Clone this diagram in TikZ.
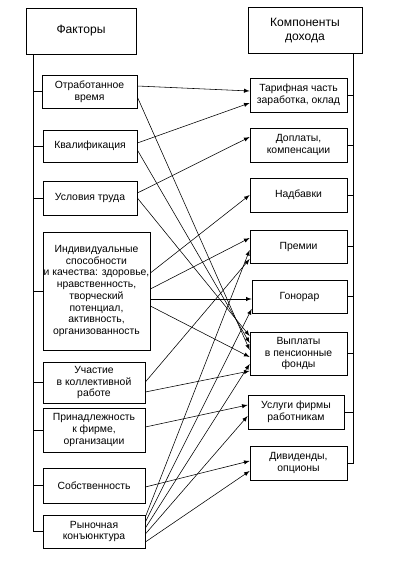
\documentclass[tikz,border=0pt]{standalone}
\usepackage{fontspec}
\setmainfont{Liberation Sans}
\usetikzlibrary{arrows}

\begin{document}
\begin{tikzpicture}[x=0.025cm, y=-0.025cm, >=latex,
    box/.style 2 args={draw, line width=0.5pt, align=center, inner sep=0pt,
      minimum width=#1*0.025cm, minimum height=#2*0.025cm,
      font=\fontsize{7.4}{8.3}\selectfont},
    head/.style={font=\fontsize{8.6}{10}\selectfont},
    link/.style={->, line width=0.4pt}]
  \def\Lx{33}
  \def\Rx{353}
  \useasboundingbox (0,0) rectangle (410,561);

  % FACTORS
  \node[box={110}{46}, head] (fac) at (81,31) {Факторы};
  \node[box={95}{33}] (otr) at (89.5,91.5) {Отработанное\\время};
  \node[box={94}{32}] (kval) at (90,146) {Квалификация};
  \node[box={94}{34}] (uslov) at (90,198) {Условия труда};
  \node[box={107}{118}] (indiv) at (96.5,291) {Индивидуальные\\способности\\и качества: здоровье,\\нравственность,\\творческий\\потенциал,\\активность,\\организованность};
  \node[box={102}{41}] (uchast) at (94,382.5) {Участие\\в коллективной\\работе};
  \node[box={102}{44}] (prin) at (94,430) {Принадлежность\\к фирме,\\организации};
  \node[box={102}{35}] (sobst) at (94,485.5) {Собственность};
  \node[box={102}{33}] (rynok) at (94,531.5) {Рыночная\\конъюнктура};

  % COMPONENTS
  \node[box={114}{46}, head] (komp) at (305,30.5) {Компоненты\\дохода};
  \node[box={97}{34}] (tarif) at (298.5,95) {Тарифная часть\\заработка, оклад};
  \node[box={97}{34}] (dopl) at (298.5,145) {Доплаты,\\компенсации};
  \node[box={97}{34}] (nadb) at (298.5,195) {Надбавки};
  \node[box={97}{33}] (prem) at (298.5,246.5) {Премии};
  \node[box={95}{33}] (gonor) at (299.5,296.5) {Гонорар};
  \node[box={97}{43}] (vypl) at (298.5,353.5) {Выплаты\\в пенсионные\\фонды};
  \node[box={96}{34}] (uslug) at (296,412) {Услуги фирмы\\работникам};
  \node[box={97}{34}] (divid) at (298.5,463) {Дивиденды,\\опционы};

  % SPINES
  \draw[line width=0.5pt] (fac.south -| \Lx,0) |- (rynok.west);
  \draw (otr.west) -- (otr.west -| \Lx,0);
  \draw (kval.west) -- (kval.west -| \Lx,0);
  \draw (uslov.west) -- (uslov.west -| \Lx,0);
  \draw (indiv.west) -- (indiv.west -| \Lx,0);
  \draw (uchast.west) -- (uchast.west -| \Lx,0);
  \draw (prin.west) -- (prin.west -| \Lx,0);
  \draw (sobst.west) -- (sobst.west -| \Lx,0);
  \draw[line width=0.5pt] (komp.south -| \Rx,0) |- (divid.east);
  \draw (tarif.east) -- (tarif.east -| \Rx,0);
  \draw (dopl.east) -- (dopl.east -| \Rx,0);
  \draw (nadb.east) -- (nadb.east -| \Rx,0);
  \draw (prem.east) -- (prem.east -| \Rx,0);
  \draw (gonor.east) -- (gonor.east -| \Rx,0);
  \draw (vypl.east) -- (vypl.east -| \Rx,0);
  \draw (uslug.east) -- (uslug.east -| \Rx,0);

  % LINKS
  \draw[link] (otr.east |- 0,86) -- (tarif.west |- 0,91);
  \draw[link] (otr.east |- 0,97) -- (vypl.west |- 0,350);
  \draw[link] (kval.east |- 0,143) -- (tarif.west |- 0,103);
  \draw[link] (kval.east |- 0,150) -- (vypl.west |- 0,343);
  \draw[link] (uslov.east |- 0,193) -- (dopl.west |- 0,137);
  \draw[link] (uslov.east |- 0,198) -- (vypl.west |- 0,336);
  \draw[link] (indiv.east |- 0,273) -- (nadb.west |- 0,195);
  \draw[link] (indiv.east |- 0,289) -- (prem.west |- 0,238);
  \draw[link] (indiv.east |- 0,299) -- (gonor.west |- 0,299);
  \draw[link] (indiv.east |- 0,306) -- (vypl.west |- 0,357);
  \draw[link] (uchast.east |- 0,382) -- (prem.west |- 0,259);
  \draw[link] (uchast.east |- 0,392) -- (vypl.west |- 0,371);
  \draw[link] (prin.east |- 0,427) -- (uslug.west |- 0,405);
  \draw[link] (sobst.east |- 0,487) -- (divid.west |- 0,461);
  \draw[link] (rynok.east |- 0,517) -- (prem.west |- 0,250);
  \draw[link] (rynok.east |- 0,522) -- (gonor.west |- 0,309);
  \draw[link] (rynok.east |- 0,528) -- (vypl.west |- 0,364);
  \draw[link] (rynok.east |- 0,534) -- (uslug.west |- 0,416);
  \draw[link] (rynok.east |- 0,542) -- (divid.west |- 0,471);
\end{tikzpicture}
\end{document}
